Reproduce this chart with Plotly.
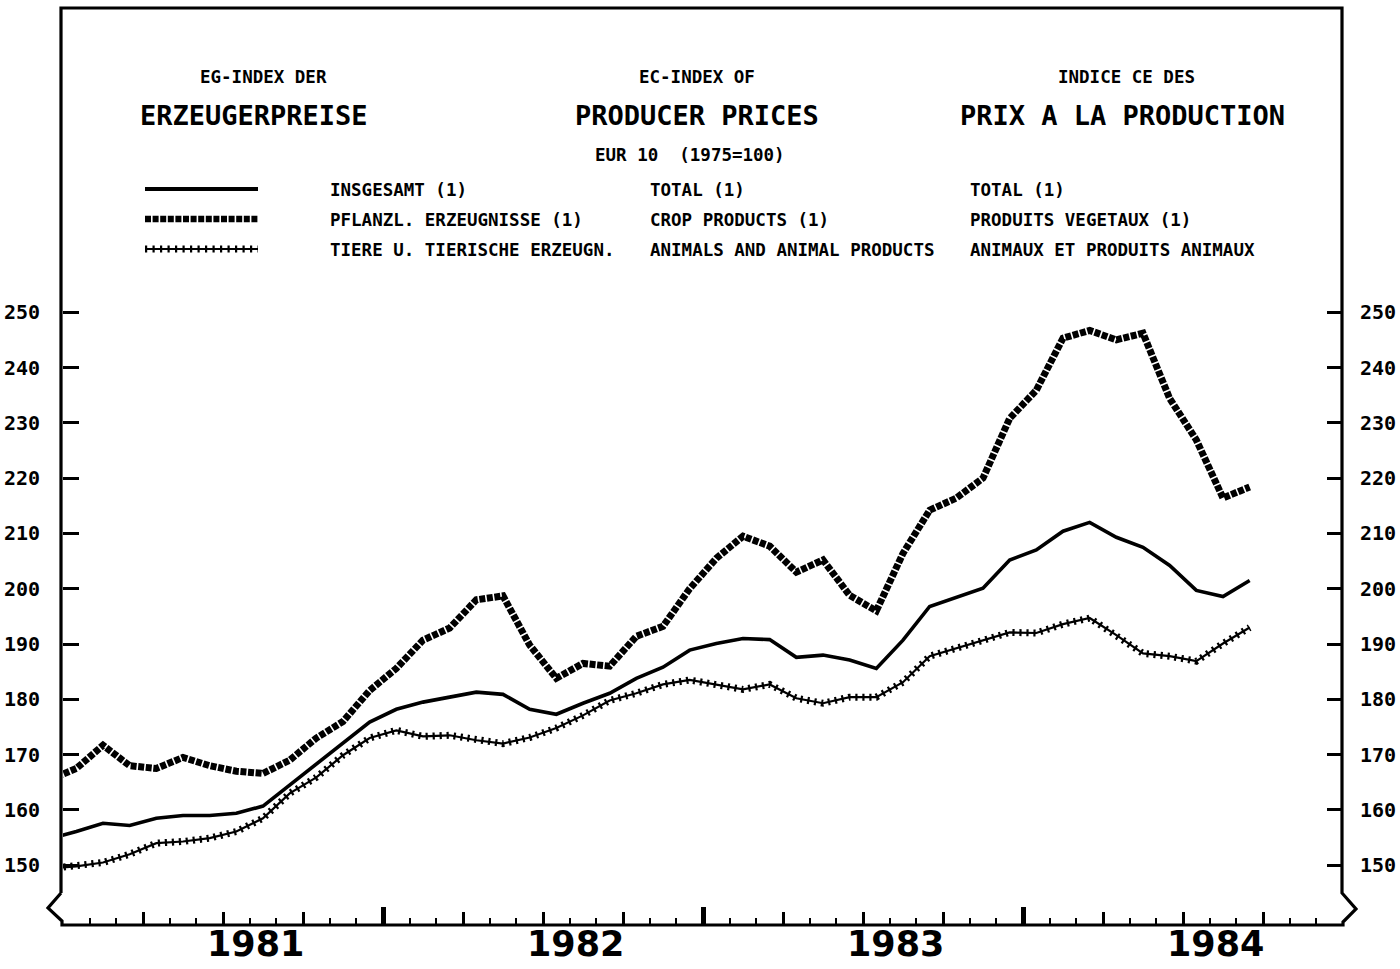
import plotly.graph_objects as go

# ---------------- data (monthly, Dec 1980 .. Sep 1984, index 1975=100) -------------
months = list(range(-1, 45))          # 0 = Jan 1981 ; plotted at mid-month
crop = [165.5, 167.5, 171.7, 168.0, 167.5, 169.5, 168.0, 167.0, 166.6, 169.0, 173.0, 176.0, 181.6,
        185.6, 190.7, 192.9, 198.0, 198.7, 189.8, 183.8, 186.5, 186.0, 191.4, 193.2, 200.0,
        205.5, 209.5, 207.7, 203.0, 205.2, 198.8, 196.0, 206.4, 214.2, 216.4, 220.0, 230.8,
        235.9, 245.3, 246.7, 245.0, 246.2, 234.4, 226.9, 216.4, 218.4]
total = [154.8, 156.1, 157.6, 157.2, 158.5, 159.0, 159.0, 159.4, 160.7, 164.5, 168.4, 172.0, 175.9,
         178.2, 179.5, 180.4, 181.3, 180.9, 178.2, 177.3, 179.3, 181.1, 183.8, 185.8, 188.9,
         190.1, 191.0, 190.8, 187.6, 188.0, 187.1, 185.6, 190.7, 196.8, 198.5, 200.1, 205.2,
         207.0, 210.4, 212.0, 209.3, 207.5, 204.2, 199.7, 198.6, 201.5]
animals = [149.4, 149.8, 150.5, 152.0, 154.0, 154.3, 154.9, 156.1, 158.5, 163.0, 165.9, 169.9, 173.0,
           174.4, 173.3, 173.5, 172.6, 172.0, 173.1, 174.8, 177.1, 179.8, 181.1, 182.7, 183.5,
           182.7, 181.8, 182.7, 180.2, 179.3, 180.4, 180.4, 183.1, 187.8, 189.2, 190.7, 192.1,
           192.0, 193.6, 194.7, 191.6, 188.3, 187.8, 186.9, 190.1, 193.0]
years = ["1981", "1982", "1983", "1984"]
ytick_vals = [150, 160, 170, 180, 190, 200, 210, 220, 230, 240, 250]

legend_de = ["INSGESAMT (1)", "PFLANZL. ERZEUGNISSE (1)", "TIERE U. TIERISCHE ERZEUGN."]
legend_en = ["TOTAL (1)", "CROP PRODUCTS (1)", "ANIMALS AND ANIMAL PRODUCTS"]
legend_fr = ["TOTAL (1)", "PRODUITS VEGETAUX (1)", "ANIMAUX ET PRODUITS ANIMAUX"]

# ---------------- geometry helpers ----------------
W, H = 1400, 969
L, R, T, B = 63, 1343, 8, 925          # plot area in pixels
XR = [0, 48]
YR = [139.2, 305.0]


def px(x):
    return (x - L) / (R - L)


def py(y):
    return (B - y) / (B - T)


xm = [m + 0.5 for m in months]
MONO = "DejaVu Sans Mono"
BLACK = "#000000"

fig = go.Figure()

# crop products: thick broken line
fig.add_trace(go.Scatter(x=xm, y=crop, mode="lines", xaxis="x", yaxis="y",
                         line=dict(color=BLACK, width=7, dash="6px,1.6px"),
                         showlegend=False, hoverinfo="skip"))
# total: solid line
fig.add_trace(go.Scatter(x=xm, y=total, mode="lines",
                         line=dict(color=BLACK, width=3.6),
                         showlegend=False, hoverinfo="skip"))
# animals: line with cross strokes
fig.add_trace(go.Scatter(x=xm, y=animals, mode="lines",
                         line=dict(color=BLACK, width=2.2),
                         showlegend=False, hoverinfo="skip"))
fig.add_trace(go.Scatter(x=xm, y=animals, mode="lines",
                         line=dict(color=BLACK, width=7, dash="2.2px,4.8px"),
                         showlegend=False, hoverinfo="skip"))

# empty traces so overlay axes are built
fig.add_trace(go.Scatter(x=[], y=[], xaxis="x2", yaxis="y2", showlegend=False, hoverinfo="skip"))

# ---------------- frame ----------------
shapes = []
lw = 3.2
frame_path = (f"M {px(61)},{py(893)} L {px(61)},{py(T)} L {px(1342)},{py(T)} L {px(1342)},{py(893)} "
              f"L {px(1356)},{py(909)} L {px(1343)},{py(922)} L {px(1343)},{py(B)} "
              f"L {px(62)},{py(B)} L {px(62)},{py(921)} L {px(48)},{py(908)} L {px(61)},{py(893)}")
shapes.append(dict(type="path", xref="paper", yref="paper", path=frame_path,
                   line=dict(color=BLACK, width=lw)))

# legend keys
key_x0, key_x1 = 145, 258
rows_y = [189, 219, 249]
shapes.append(dict(type="line", xref="paper", yref="paper", x0=px(key_x0), x1=px(key_x1),
                   y0=py(rows_y[0]), y1=py(rows_y[0]), line=dict(color=BLACK, width=4)))
shapes.append(dict(type="line", xref="paper", yref="paper", x0=px(key_x0), x1=px(key_x1),
                   y0=py(rows_y[1]), y1=py(rows_y[1]), line=dict(color=BLACK, width=6.5, dash="6px,1.6px")))
shapes.append(dict(type="line", xref="paper", yref="paper", x0=px(key_x0), x1=px(key_x1),
                   y0=py(rows_y[2]), y1=py(rows_y[2]), line=dict(color=BLACK, width=2.2)))
shapes.append(dict(type="line", xref="paper", yref="paper", x0=px(key_x0), x1=px(key_x1),
                   y0=py(rows_y[2]), y1=py(rows_y[2]), line=dict(color=BLACK, width=7, dash="2.2px,5.3px")))

# ---------------- texts ----------------
ann = []


def txt(s, x, y, size, bold=False, anchor="left", family=MONO, yanchor="middle"):
    ann.append(dict(text=f"<b>{s}</b>" if bold else s, x=x, y=y, xref="paper", yref="paper",
                    xanchor=anchor, yanchor=yanchor, showarrow=False,
                    font=dict(family=family, size=size, color=BLACK)))


txt("EG-INDEX DER", px(198), py(77), 17.5, True)
txt("EC-INDEX OF", px(637), py(77), 17.5, True)
txt("INDICE CE DES", px(1056), py(77), 17.5, True)
txt("ERZEUGERPREISE", px(138), py(115), 27, True)
txt("PRODUCER PRICES", px(573), py(115), 27, True)
txt("PRIX A LA PRODUCTION", px(958), py(115), 27, True)
txt("EUR 10\u00a0\u00a0(1975=100)", px(593), py(155), 17.5, True)
for i in range(3):
    txt(legend_de[i], px(328), py(rows_y[i] + 1), 17.5, True)
    txt(legend_en[i], px(648), py(rows_y[i] + 1), 17.5, True)
    txt(legend_fr[i], px(968), py(rows_y[i] + 1), 17.5, True)

# year labels, placed in each year's span (x in data months)
for i, yr in enumerate(years):
    ann.append(dict(text=f"<b>{yr}</b>", x=12 * i + 7.2, xref="x", y=py(944), yref="paper",
                    xanchor="center", yanchor="middle", showarrow=False,
                    font=dict(family="DejaVu Sans", size=35, color=BLACK)))

common_x = dict(range=XR, autorange=False, showgrid=False, zeroline=False, showline=False,
                fixedrange=True, automargin=False)
yfont = dict(family=MONO, size=20, color=BLACK, weight="bold")
common_y = dict(range=YR, autorange=False, showgrid=False, zeroline=False, showline=False,
                tickvals=ytick_vals, ticks="inside", ticklen=16, tickwidth=2.5, tickcolor=BLACK,
                tickfont=yfont, fixedrange=True, automargin=False)

fig.update_layout(
    width=W, height=H,
    margin=dict(l=L, r=W - R, t=T, b=H - B, pad=0, autoexpand=False),
    paper_bgcolor="white", plot_bgcolor="white",
    showlegend=False,
    xaxis=dict(**common_x, tick0=0, dtick=3, ticks="inside", ticklen=13, tickwidth=2.5,
               tickcolor=BLACK, showticklabels=False,
               minor=dict(dtick=1, tick0=0, ticks="inside", ticklen=7, tickwidth=2, tickcolor=BLACK)),
    xaxis2=dict(**common_x, overlaying="x", anchor="y", side="bottom",
                tickvals=[12, 24, 36], ticks="inside", ticklen=18, tickwidth=4.5, tickcolor=BLACK,
                showticklabels=False),
    yaxis=dict(**common_y, side="left", ticklabelstandoff=22),
    yaxis2=dict(**common_y, overlaying="y", anchor="x", side="right", ticklabelstandoff=16),
    shapes=shapes,
    annotations=ann,
)

fig.write_html("out.html", config={"displayModeBar": False},
               post_script="document.body.style.margin='0';document.body.style.overflow='hidden';")
